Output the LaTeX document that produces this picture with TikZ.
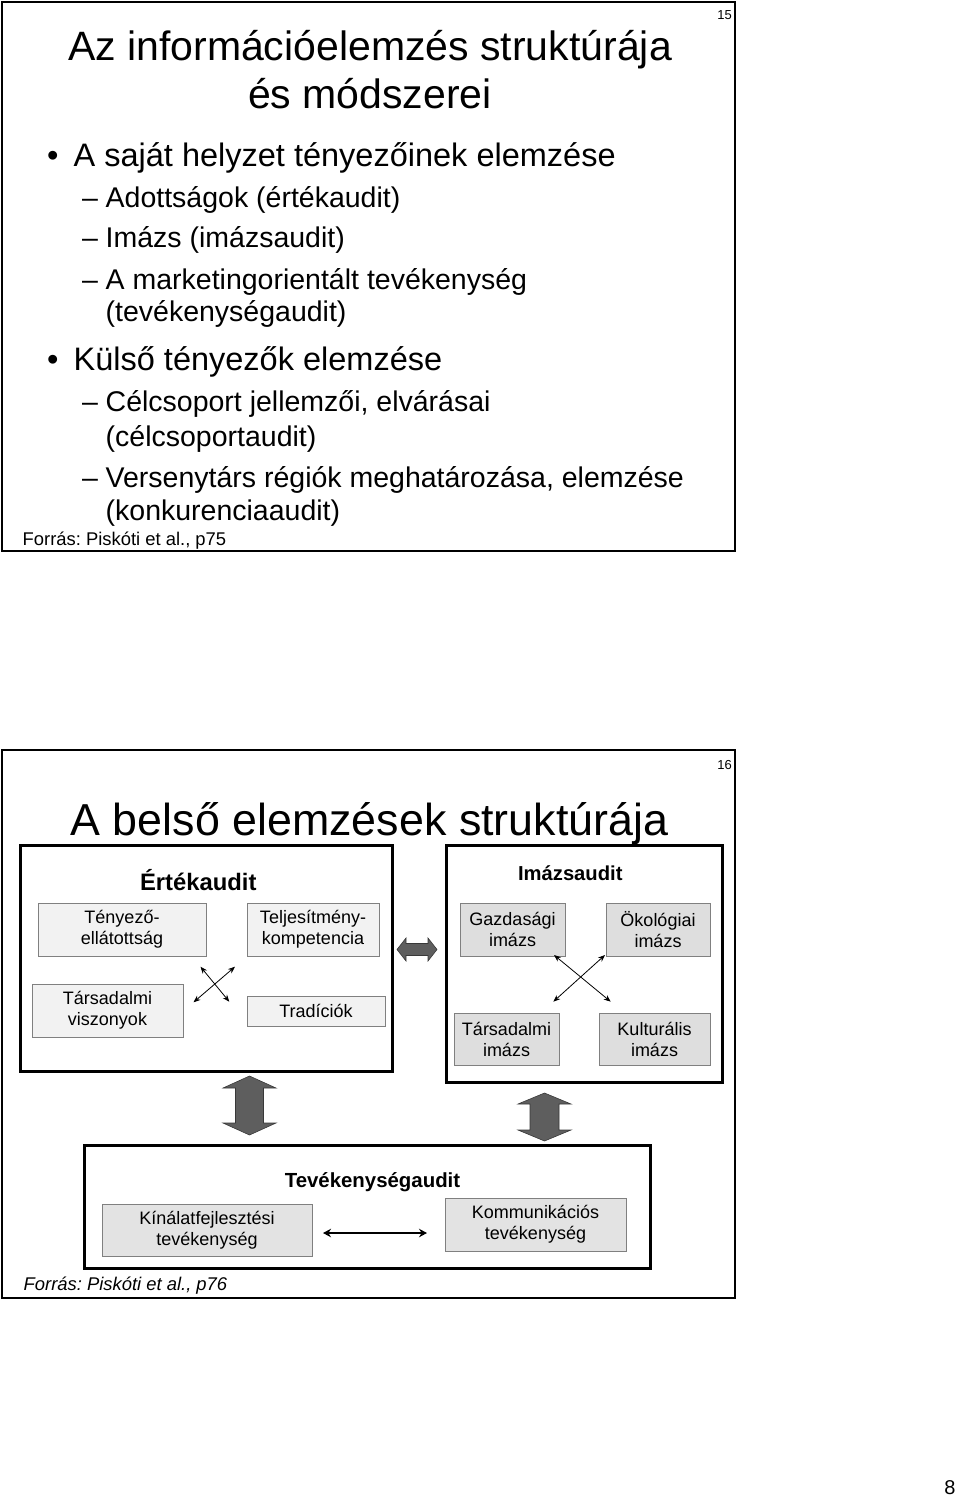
\documentclass[tikz,border=0pt]{standalone}
\usepackage{fontspec}
\setmainfont{Liberation Sans}
\usetikzlibrary{arrows.meta}
\frenchspacing
\begin{document}
\begin{tikzpicture}[x=1pt,y=-1pt,
  slideframe/.style={draw=black,line width=1.8pt},
  ttl/.style={anchor=base,inner sep=0,font=\fontsize{41}{48}\selectfont},
  lvlone/.style={anchor=base west,inner sep=0,font=\fontsize{32.5}{38}\selectfont},
  lvltwo/.style={anchor=base west,inner sep=0,font=\fontsize{28.5}{34}\selectfont},
  src/.style={anchor=base west,inner sep=0,font=\fontsize{18.4}{22}\selectfont},
  pnum/.style={anchor=base east,inner sep=0,font=\fontsize{13}{15}\selectfont},
  groupbox/.style={draw=black,line width=3pt,inner sep=0,fill=white},
  grouplabel/.style={anchor=base,inner sep=0,font=\bfseries\fontsize{20.2}{24}\selectfont},
  ibox/.style={draw=black!50,line width=0.8pt,fill=black!13,align=center,inner sep=0,
    font=\fontsize{18}{21}\selectfont},
  iboxlight/.style={ibox,fill=black!5},
  thinarrow/.style={line width=0.8pt,{Stealth[length=7pt,width=5.5pt]}-{Stealth[length=7pt,width=5.5pt]}},
  bigarrow/.style={fill=black!63,draw=black!78,line width=0.6pt}]
\useasboundingbox (0,0) rectangle (960,1501);

% ---------------- slide 15 ----------------
\draw[slideframe] (2,2) rectangle (735,551);
\node[pnum] (p15) at (732,20) {15};
\node[ttl] (t1a) at (370,61) {Az információelemzés struktúrája};
\node[ttl] (t1b) at (370,109) {és módszerei};

\node[lvlone] (b1) at (47,166) {•};
\node[lvlone] (l1) at (73.5,166) {A saját helyzet tényezőinek elemzése};
\node[lvltwo] (d1) at (82,207) {–};
\node[lvltwo] (l2) at (105.5,207) {Adottságok (értékaudit)};
\node[lvltwo] (d2) at (82,247.5) {–};
\node[lvltwo] (l3) at (105.5,247.5) {Imázs (imázsaudit)};
\node[lvltwo] (d3) at (82,289) {–};
\node[lvltwo] (l4) at (105.5,289) {A marketingorientált tevékenység};
\node[lvltwo] (l5) at (105.5,321) {(tevékenységaudit)};
\node[lvlone] (b2) at (47,370) {•};
\node[lvlone] (l6) at (73.5,370) {Külső tényezők elemzése};
\node[lvltwo] (d4) at (82,411) {–};
\node[lvltwo] (l7) at (105.5,411) {Célcsoport jellemzői, elvárásai};
\node[lvltwo] (l8) at (105.5,446) {(célcsoportaudit)};
\node[lvltwo] (d5) at (82,487.5) {–};
\node[lvltwo] (l9) at (105.5,487.5) {Versenytárs régiók meghatározása, elemzése};
\node[lvltwo] (l10) at (105.5,520) {(konkurenciaaudit)};
\node[src] (s1) at (22.5,545) {Forrás: Piskóti et al., p75};

% ---------------- slide 16 ----------------
\draw[slideframe] (2,750) rectangle (735,1298);
\node[pnum] (p16) at (732,769) {16};
\node[ttl,font=\fontsize{44.8}{52}\selectfont] (t2) at (369.5,835) {A belső elemzések struktúrája};

% group boxes
\node[groupbox,minimum width=372,minimum height=226] (ert) at (206,958) {};
\node[groupbox,minimum width=276,minimum height=237] (imazs) at (584,963.5) {};
\node[groupbox,minimum width=566,minimum height=123] (tev) at (367,1206.5) {};

\node[grouplabel,font=\bfseries\fontsize{23.8}{28}\selectfont] (ertl) at (198.3,890) {Értékaudit};
\node[grouplabel] (imazsl) at (570.3,880.5) {Imázsaudit};
\node[grouplabel,font=\bfseries\fontsize{20.4}{24}\selectfont] (tevl) at (372.5,1187) {Tevékenységaudit};

% Értékaudit inner boxes
\node[iboxlight,minimum width=168,minimum height=53] (teny) at (122,929.5) {Tényező-\\ellátottság};
\node[iboxlight,minimum width=132,minimum height=53] (telj) at (313,929.5) {Teljesítmény-\\kompetencia};
\node[iboxlight,minimum width=151,minimum height=53] (tars) at (107.5,1010.5) {Társadalmi\\viszonyok};
\node[iboxlight,minimum width=138,minimum height=30] (trad) at (316,1011) {Tradíciók};

% Imázsaudit inner boxes
\node[ibox,minimum width=105,minimum height=53] (gazd) at (512.5,929.5) {Gazdasági\\imázs};
\node[ibox,minimum width=104,minimum height=53] (okol) at (658,929.5) {Ökológiai\\imázs};
\node[ibox,minimum width=105,minimum height=52] (tarsim) at (506.5,1039) {Társadalmi\\imázs};
\node[ibox,minimum width=111,minimum height=52] (kult) at (654.5,1039) {Kulturális\\imázs};

% Tevékenységaudit inner boxes
\node[ibox,fill=black!11,minimum width=210,minimum height=52] (kinal) at (207,1230) {Kínálatfejlesztési\\tevékenység};
\node[ibox,fill=black!11,minimum width=181,minimum height=53] (komm) at (535.5,1224.5) {Kommunikációs\\tevékenység};

% crossing arrows (Értékaudit)
\coordinate (ea1) at (200.5,966.7);
\coordinate (ea2) at (229.3,1001.7);
\coordinate (eb1) at (235,966.7);
\coordinate (eb2) at (193.5,1002.3);
\draw[thinarrow] (ea1) -- (ea2);
\draw[thinarrow] (eb1) -- (eb2);

% crossing arrows (Imázsaudit)
\coordinate (ia1) at (554,955);
\coordinate (ia2) at (610.7,1001.7);
\coordinate (ib1) at (605,955);
\coordinate (ib2) at (553.3,1001.7);
\draw[thinarrow] (ia1) -- (ia2);
\draw[thinarrow] (ib1) -- (ib2);

% arrow between activity boxes
\coordinate (h1) at (323,1233);
\coordinate (h2) at (427,1233);
\draw[line width=2pt,{Stealth[length=8pt,width=8.5pt]}-{Stealth[length=8pt,width=8.5pt]}] (h1) -- (h2);

% big grey double arrows
\draw[bigarrow] (397,949.5) -- (406,938) -- (406,943.5) -- (428,943.5) -- (428,938)
  -- (437,949.5) -- (428,961) -- (428,955.5) -- (406,955.5) -- (406,961) -- cycle;
\draw[bigarrow] (249.5,1076) -- (276,1088) -- (263.5,1088) -- (263.5,1123) -- (276,1123)
  -- (249.5,1135) -- (223,1123) -- (235.5,1123) -- (235.5,1088) -- (223,1088) -- cycle;
\draw[bigarrow] (544.5,1093) -- (571,1104) -- (559,1104) -- (559,1130) -- (571,1130)
  -- (544.5,1141) -- (518,1130) -- (530,1130) -- (530,1104) -- (518,1104) -- cycle;

\node[src,font=\itshape\fontsize{18.4}{22}\selectfont] (s2) at (23.5,1290) {Forrás: Piskóti et al., p76};

% page number
\node[anchor=base,inner sep=0,font=\fontsize{20}{24}\selectfont] (pg) at (950,1494) {8};
\end{tikzpicture}
\end{document}
